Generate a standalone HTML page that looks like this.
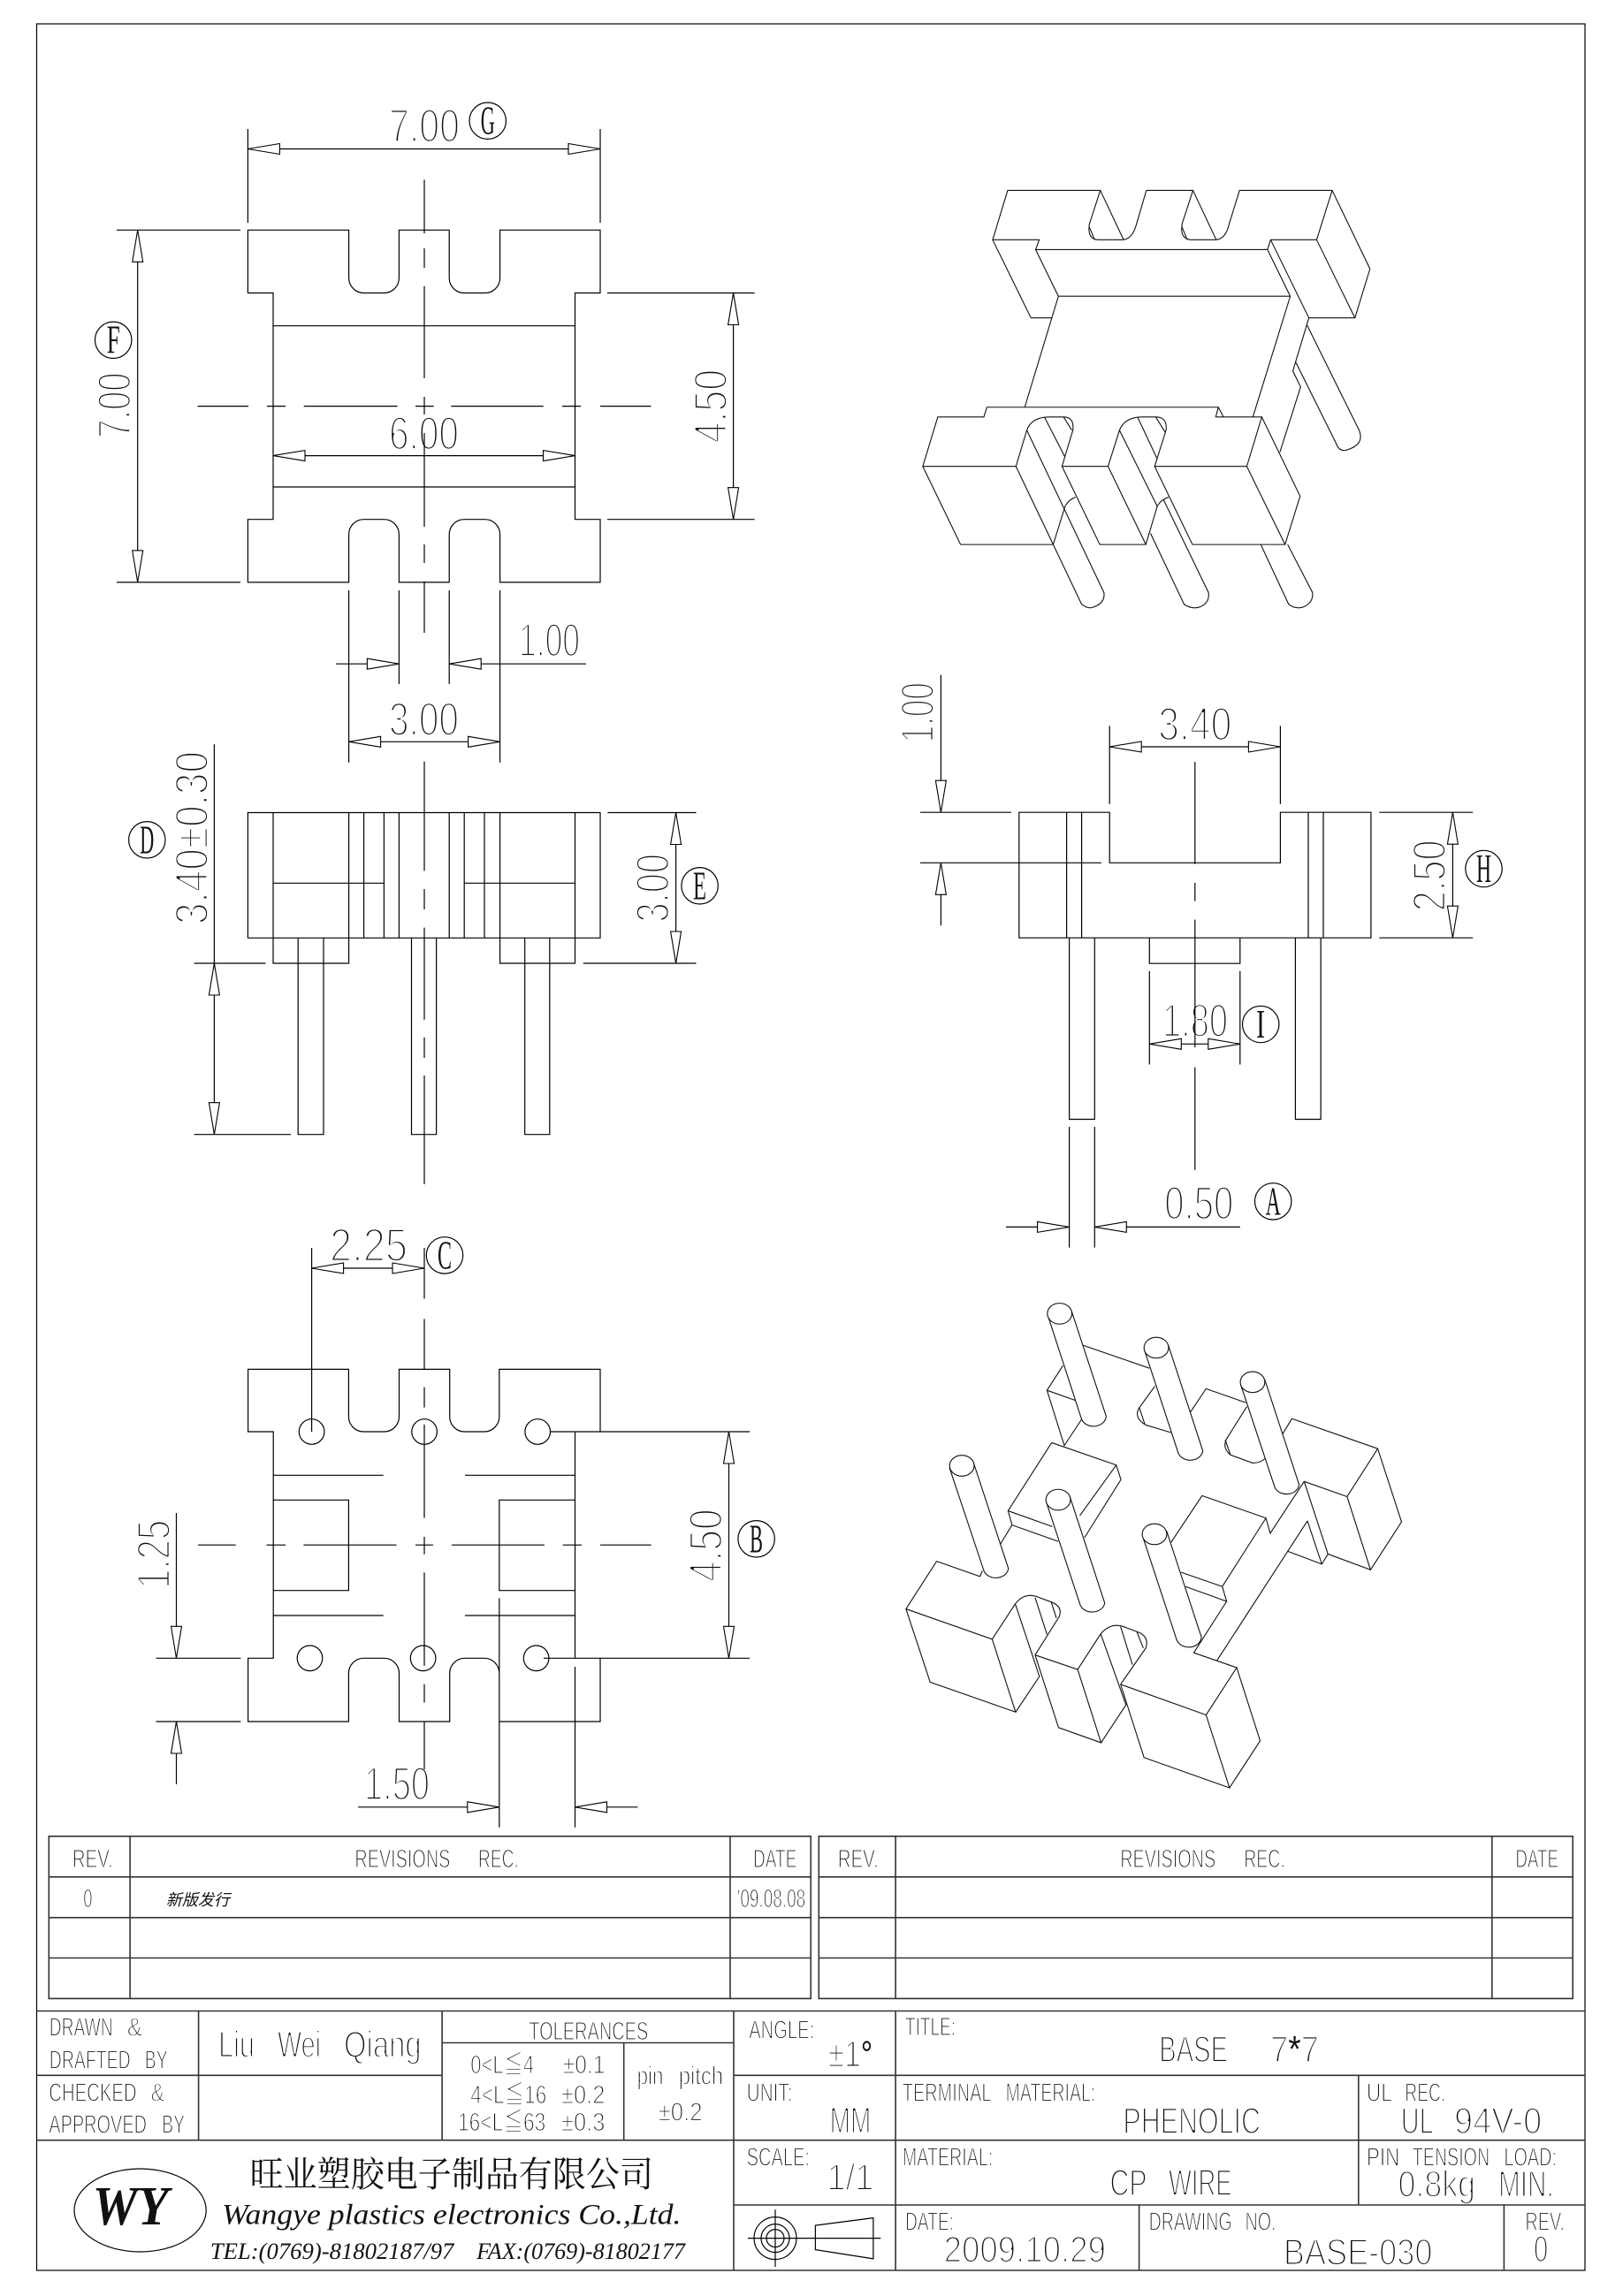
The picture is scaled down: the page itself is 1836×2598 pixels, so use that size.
<!DOCTYPE html>
<html><head><meta charset="utf-8"><title>BASE 7*7</title>
<style>
html,body{margin:0;padding:0;background:#fff}
svg{display:block}
text{font-family:"Liberation Sans","Noto Sans CJK SC",sans-serif;fill:#111;stroke:#fff;stroke-width:.045em}
.d{font-size:53px;stroke-width:.052em}.s{font-size:29px}.m{font-size:42px;stroke-width:.05em}
.c{font-family:"Liberation Serif",serif;font-size:46px;stroke:none}
.n{stroke:none}
.k{stroke:none}
.l{fill:none;stroke:#000;stroke-width:1.2}
.b{fill:none;stroke:#333;stroke-width:1.6}
.i{fill:none;stroke:#111;stroke-width:1.1;vector-effect:non-scaling-stroke}
.p{fill:#fff;stroke:#111;stroke-width:1.1;vector-effect:non-scaling-stroke}
</style></head><body>
<svg xmlns="http://www.w3.org/2000/svg" width="1836" height="2598" viewBox="0 0 1836 2598">
<defs><path id="a" d="M0 0L-36 -6V6Z" fill="#fff" stroke="#000" stroke-width="1.1"/></defs>
<rect width="1836" height="2598" fill="#fff"/>

<!-- dimension text -->
<g>
<text class="d" x="440" y="160.7" textLength="80" lengthAdjust="spacingAndGlyphs">7.00</text>
<text class="d" transform="translate(147.5,495.9) rotate(-90)" textLength="74.4" lengthAdjust="spacingAndGlyphs">7.00</text>
<text class="d" transform="translate(822,501.4) rotate(-90)" textLength="83.6" lengthAdjust="spacingAndGlyphs">4.50</text>
<text class="d" x="440" y="508.3" textLength="79" lengthAdjust="spacingAndGlyphs">6.00</text>
<text class="d" x="587" y="742.5" textLength="69" lengthAdjust="spacingAndGlyphs">1.00</text>
<text class="d" x="440" y="832" textLength="79" lengthAdjust="spacingAndGlyphs">3.00</text>
<text class="d" transform="translate(234.8,1046) rotate(-90)" textLength="196" lengthAdjust="spacingAndGlyphs">3.40±0.30</text>
<text class="d" transform="translate(756.4,1043.5) rotate(-90)" textLength="77.5" lengthAdjust="spacingAndGlyphs">3.00</text>
<text class="d" transform="translate(1056.2,840.2) rotate(-90)" textLength="68" lengthAdjust="spacingAndGlyphs">1.00</text>
<text class="d" x="1310.3" y="837.5" textLength="83" lengthAdjust="spacingAndGlyphs">3.40</text>
<text class="d" transform="translate(1635.2,1031.3) rotate(-90)" textLength="81" lengthAdjust="spacingAndGlyphs">2.50</text>
<text class="d" x="1315" y="1173.2" textLength="74" lengthAdjust="spacingAndGlyphs">1.80</text>
<text class="d" x="1317.3" y="1379.5" textLength="78" lengthAdjust="spacingAndGlyphs">0.50</text>
<text class="d" x="373" y="1426.8" textLength="88" lengthAdjust="spacingAndGlyphs">2.25</text>
<text class="d" transform="translate(816.3,1790) rotate(-90)" textLength="82.6" lengthAdjust="spacingAndGlyphs">4.50</text>
<text class="d" transform="translate(191.8,1797.8) rotate(-90)" textLength="78" lengthAdjust="spacingAndGlyphs">1.25</text>
<text class="d" x="412" y="2036.6" textLength="74" lengthAdjust="spacingAndGlyphs">1.50</text>
</g>

<!-- circled letters -->
<g class="l">
<circle cx="551.7" cy="136.7" r="20.7"/><circle cx="128.2" cy="384.8" r="20.7"/>
<circle cx="166.3" cy="950.3" r="20.7"/><circle cx="791.6" cy="1002.3" r="20.7"/>
<circle cx="1678.5" cy="983" r="20.7"/><circle cx="1426.2" cy="1159" r="20.7"/>
<circle cx="1440.2" cy="1359.4" r="20.7"/><circle cx="503" cy="1420.4" r="20.7"/>
<circle cx="855.6" cy="1741.3" r="20.7"/>
</g>
<text class="c" x="543.7" y="151.5" textLength="16" lengthAdjust="spacingAndGlyphs">G</text>
<text class="c" x="120.7" y="399.5" textLength="15" lengthAdjust="spacingAndGlyphs">F</text>
<text class="c" x="158.3" y="965.5" textLength="16" lengthAdjust="spacingAndGlyphs">D</text>
<text class="c" x="784" y="1017.5" textLength="15" lengthAdjust="spacingAndGlyphs">E</text>
<text class="c" x="1670" y="998" textLength="17" lengthAdjust="spacingAndGlyphs">H</text>
<text class="c" x="1421" y="1174" textLength="10" lengthAdjust="spacingAndGlyphs">I</text>
<text class="c" x="1431.7" y="1374.5" textLength="17" lengthAdjust="spacingAndGlyphs">A</text>
<text class="c" x="495" y="1435.5" textLength="16" lengthAdjust="spacingAndGlyphs">C</text>
<text class="c" x="848" y="1756.5" textLength="15" lengthAdjust="spacingAndGlyphs">B</text>

<!-- top view -->
<path class="l" d="M280.4 260.3H394.6V314.5A17 17 0 0 0 411.6 331.5H434.4A17 17 0 0 0 451.4 314.5V260.3H508.2V314.5A17 17 0 0 0 525.2 331.5H548.6A17 17 0 0 0 565.6 314.5V260.3H679V331.5H650.5V587.7H679V658.9H565.6V604.7A17 17 0 0 0 548.6 587.7H525.2A17 17 0 0 0 508.2 604.7V658.9H451.4V604.7A17 17 0 0 0 434.4 587.7H411.6A17 17 0 0 0 394.6 604.7V658.9H280.4V587.7H309V331.5H280.4Z
M309 368.7H650.5M309 551H650.5
M480 203.4V264M480 281V303M480 323.7V428M480 449V469M480 490V596M480 616V637M480 658V716
M223.6 459.6H281M302 459.6H323M343.7 459.6H449.6M470 459.6H490.6M510.4 459.6H614.7M636 459.6H657M679 459.6H736.5
M280.4 146V252M679 146V252M280.4 168.5H679
M132 260.3H272M132 658.9H272M155.7 260.3V658.9
M687 331.5H853.6M687 587.7H853.6M829.6 331.5V587.7
M309 515.6H650.5
M394.6 668V862.7M565.6 668V862.7M451.4 668V774M508.2 668V774
M380 751.2H451.4M508.2 751.2H663M394.6 839.3H565.6"/>
<use href="#a" transform="translate(280.4,168.5) rotate(180)"/><use href="#a" transform="translate(679,168.5)"/>
<use href="#a" transform="translate(155.7,260.3) rotate(-90)"/><use href="#a" transform="translate(155.7,658.9) rotate(90)"/>
<use href="#a" transform="translate(829.6,331.5) rotate(-90)"/><use href="#a" transform="translate(829.6,587.7) rotate(90)"/>
<use href="#a" transform="translate(309,515.6) rotate(180)"/><use href="#a" transform="translate(650.5,515.6)"/>
<use href="#a" transform="translate(451.4,751.2)"/><use href="#a" transform="translate(508.2,751.2) rotate(180)"/>
<use href="#a" transform="translate(394.6,839.3) rotate(180)"/><use href="#a" transform="translate(565.6,839.3)"/>

<!-- front view -->
<path class="l" d="M280.4 919.5H679V1061.3H280.4Z
M309 919.5V1061.3M394.6 919.5V1061.3M411.6 919.5V1061.3M434.4 919.5V1061.3M451.4 919.5V1061.3M508.2 919.5V1061.3M525.2 919.5V1061.3M548 919.5V1061.3M565.6 919.5V1061.3M650.5 919.5V1061.3
M309 999.3H434.4M525.2 999.3H650.5
M309 1061.3V1090H394.6V1061.3M565.6 1061.3V1090H650.5V1061.3
M337.2 1061.3V1283.7H366V1061.3M465.5 1061.3V1283.7H493.6V1061.3M593.7 1061.3V1283.7H621.8V1061.3
M480 861.8V985.4M480 1006V1029M480 1049.6V1153.7M480 1174V1197M480 1217V1340
M242.4 842.3V1283.7M219.6 1090H300.4M219.6 1283.7H329
M764.6 919.5V1090M687.4 919.5H787.5M659.8 1090H787.5"/>
<use href="#a" transform="translate(242.4,1090) rotate(-90)"/><use href="#a" transform="translate(242.4,1283.7) rotate(90)"/>
<use href="#a" transform="translate(764.6,919.5) rotate(-90)"/><use href="#a" transform="translate(764.6,1090) rotate(90)"/>

<!-- side view -->
<path class="l" d="M1152.8 919.2H1255.2V976.3H1448.4V919.2H1550.9V1061.2H1152.8Z
M1206.6 919.2V1061.2M1223.6 919.2V1061.2M1480 919.2V1061.2M1497 919.2V1061.2
M1209.6 1061.2V1266.5H1238.3V1061.2M1465.4 1061.2V1266.5H1494.1V1061.2
M1300.3 1061.2V1090.2H1402.8V1061.2
M1351.8 862V977.7M1351.8 999V1019.6M1351.8 1040.6V1185M1351.8 1207.6V1323.7
M1064.4 763.8V919.2M1064.4 976.3V1047.3M1041 919.2H1144M1041 976.3H1245.9
M1255.2 821.4V909.8M1448.4 821.4V909.8M1255.2 845H1448.4
M1643.4 919.2V1061.2M1560.3 919.2H1666.2M1560.3 1061.2H1666.2
M1300.3 1098.7V1204.5M1402.8 1098.7V1204.5M1300.3 1181.3H1402.8
M1209.6 1275V1411.6M1238.3 1275V1411.6M1138 1388.4H1209.6M1238.3 1388.4H1402.8"/>
<use href="#a" transform="translate(1064.4,919.2) rotate(90)"/><use href="#a" transform="translate(1064.4,976.3) rotate(-90)"/>
<use href="#a" transform="translate(1255.2,845) rotate(180)"/><use href="#a" transform="translate(1448.4,845)"/>
<use href="#a" transform="translate(1643.4,919.2) rotate(-90)"/><use href="#a" transform="translate(1643.4,1061.2) rotate(90)"/>
<use href="#a" transform="translate(1300.3,1181.3) rotate(180)"/><use href="#a" transform="translate(1402.8,1181.3)"/>
<use href="#a" transform="translate(1209.6,1388.4)"/><use href="#a" transform="translate(1238.3,1388.4) rotate(180)"/>

<!-- bottom view -->
<path class="l" d="M280.6 1549.4H394.4V1603A17 17 0 0 0 411.4 1620H434.5A17 17 0 0 0 451.5 1603V1549.4H508.7V1603A17 17 0 0 0 525.7 1620H547.8A17 17 0 0 0 564.8 1603V1549.4H679V1620H650.5V1876.3H679V1948H564.8V1893.3A17 17 0 0 0 547.8 1876.3H525.7A17 17 0 0 0 508.7 1893.3V1948H451.5V1893.3A17 17 0 0 0 434.5 1876.3H411.4A17 17 0 0 0 394.4 1893.3V1948H280.6V1876.3H309.2V1620H280.6Z
M309.2 1669.3H433.7M526 1669.3H650.5M309.2 1828H433.7M526 1828H650.5
M309.2 1697.3H394.4V1799.7H309.2M650.5 1697.3H564.8V1799.7H650.5
M224 1748.2H266.8M301.5 1748.2H323M343.4 1748.2H448.5M470 1748.2H490M511 1748.2H615.8M636.7 1748.2H658M679 1748.2H736.7
M480 1412V1469.5M480 1492.5V1549.4M480 1569.6V1592.6M480 1611.9V1717.5M480 1739V1758.8M480 1779.4V1885M480 1905.7V1926.4M480 1948V2002
M352.6 1412V1620M352.6 1435H480
M623 1620H848M615 1876.3H848M824.5 1620V1876.3
M199.5 1712V1876.3M199.5 1948V2019M176.5 1876.3H272.4M176.5 1948H272.4
M564.8 1808.4V2067.8M650.5 1886V2067.8M405 2044.8H564.8M650.5 2044.8H721.4"/>
<g class="l"><circle cx="352.6" cy="1620" r="14.3"/><circle cx="480.1" cy="1620" r="14.3"/><circle cx="608.2" cy="1620" r="14.3"/><circle cx="350.5" cy="1876.3" r="14.3"/><circle cx="478.6" cy="1876.3" r="14.3"/><circle cx="606.6" cy="1876.3" r="14.3"/></g>
<use href="#a" transform="translate(352.6,1435) rotate(180)"/><use href="#a" transform="translate(480,1435)"/>
<use href="#a" transform="translate(824.5,1620) rotate(-90)"/><use href="#a" transform="translate(824.5,1876.3) rotate(90)"/>
<use href="#a" transform="translate(199.5,1876.3) rotate(90)"/><use href="#a" transform="translate(199.5,1948) rotate(-90)"/>
<use href="#a" transform="translate(564.8,2044.8)"/><use href="#a" transform="translate(650.5,2044.8) rotate(180)"/>

<!-- iso top -->
<g transform="translate(918,150) scale(.5855,.3827)">
<path class="i" d="M350 317L379 171H558L537 270Q532 317 555 317H600Q620 317 628 270L647 171H737L716 270Q711 317 735 317H780Q800 317 807 270L827 171H1006L976 317H887L881 346H433L440 317H350Z
M558 171L603 317M737 171L782 317M537 280L547 317M716 280L726 317
M1006 171L1079 403L1050 548H961L887 317M976 317L1050 548
M350 317L424 548H465M433 346L477 484L412 812M477 484H925M881 346L925 484L853 840M961 548L930 705L945 752L905 945
M957 568L1058 880Q1070 925 1030 940Q1018 940 1014 920L935 677
M215 987L244 841H333L339 812H786L781 841H870L841 987H663L685 880Q688 841 665 841H640Q605 841 595 880L573 987H484L505 880Q508 841 487 841H460Q425 841 416 880L395 987H215Z
M786 812L796 841
M215 987L288 1218H467L395 987M484 987L557 1218H646L573 987M663 987L736 1218H915L841 987M870 841L944 1075L915 1218
M467 1218L490 1105Q497 1085 510 1078M646 1218L668 1105Q675 1085 690 1078
M450 841L490 960M487 841L503 880M630 841L668 965M665 841L683 885
M467 1218L522 1395Q535 1410 545 1403Q568 1390 565 1360L416 880
M655 1185L720 1395Q735 1410 750 1403Q770 1390 767 1360L680 1085M595 880L668 1105
M868 1218L922 1395Q935 1410 950 1403Q970 1390 968 1360L920 1218"/>
</g>

<!-- iso bottom -->
<g transform="translate(980,1440) scale(.408,.357)">
<path class="i" d="M600 230L785 303M545 295L501 373L580 405M501 373L549 548L597 465
M514 539L693 610L592 770M514 539L393 755L516 805M393 755L404 800L532 852M693 610L706 656L605 840M404 800L372 860
M800 360L757 428Q740 460 775 483L845 507M757 428L772 480
M897 445L942 368L1052 412M1055 425L1000 525Q985 555 1010 578L1070 603Q1090 605 1105 590M995 530L1010 578
M1155 510L1180 463L1418 558L1484 790L1398 942L1333 710L1418 558M1333 710L1214 662L1120 826L1108 778L931 707L845 855
M1214 662L1280 892L1263 924L1168 883M1223 787L1263 924M1223 787L972 1230M1280 892L1398 942
M1108 778L987 995L873 950M987 995L999 1042L885 995M999 1042L908 1205L1027 1252
M195 915L315 963L322 945M195 915L110 1066L177 1298L414 1393L349 1162L110 1066
M349 1162L413 1050Q440 1010 480 1030L515 1045Q545 1060 535 1090L468 1212M413 1050L480 1280L414 1393
M468 1212L533 1442L651 1490L586 1258L468 1212
M586 1258L650 1145Q680 1105 720 1125L755 1140Q785 1155 775 1190L705 1305M650 1145L720 1370L651 1490
M705 1305L770 1537L1007 1633L942 1402L705 1305M942 1402L1027 1252L1092 1484L1007 1633
M468 1030L501 1147M513 1045L527 1095M705 1122L738 1243M750 1138L768 1190"/>
<g>
<path class="p" d="M503 135L597 465A35 33 0 0 0 665 455L570 125Z"/><ellipse class="p" cx="536" cy="130" rx="34" ry="33"/>
<path class="p" d="M771 245L865 572A35 33 0 0 0 933 565L838 232Z"/><ellipse class="p" cx="804" cy="238" rx="34" ry="33"/>
<path class="p" d="M1038 355L1133 682A35 33 0 0 0 1200 672L1105 340Z"/><ellipse class="p" cx="1071" cy="347" rx="34" ry="33"/>
<path class="p" d="M231 620L326 945A35 33 0 0 0 394 938L298 605Z"/><ellipse class="p" cx="265" cy="612" rx="34" ry="33"/>
<path class="p" d="M499 727L593 1053A35 33 0 0 0 661 1047L565 712Z"/><ellipse class="p" cx="532" cy="720" rx="34" ry="33"/>
<path class="p" d="M766 835L860 1162A35 33 0 0 0 929 1155L833 820Z"/><ellipse class="p" cx="799" cy="829" rx="34" ry="33"/>
</g>
</g>

<!-- title block text -->
<text class="s" x="81.7" y="2113.2" textLength="46" lengthAdjust="spacingAndGlyphs">REV.</text>
<text class="s" x="401.4" y="2113.2" textLength="108" lengthAdjust="spacingAndGlyphs">REVISIONS</text>
<text class="s" x="540.9" y="2113.2" textLength="46" lengthAdjust="spacingAndGlyphs">REC.</text>
<text class="s" x="852" y="2113.2" textLength="49.4" lengthAdjust="spacingAndGlyphs">DATE</text>
<text class="s" x="947.7" y="2113.2" textLength="46" lengthAdjust="spacingAndGlyphs">REV.</text>
<text class="s" x="1267.2" y="2113.2" textLength="108" lengthAdjust="spacingAndGlyphs">REVISIONS</text>
<text class="s" x="1407.2" y="2113.2" textLength="46.6" lengthAdjust="spacingAndGlyphs">REC.</text>
<text class="s" x="1714.4" y="2113.2" textLength="48.6" lengthAdjust="spacingAndGlyphs">DATE</text>
<text class="s" x="94.3" y="2157.8" textLength="10.3" lengthAdjust="spacingAndGlyphs">0</text>
<text class="n" x="187.9" y="2156" font-size="18" font-style="italic" textLength="72" lengthAdjust="spacingAndGlyphs">新版发行</text>
<text class="s" x="833.7" y="2157.8" textLength="77.5" lengthAdjust="spacingAndGlyphs">'09.08.08</text>

<text class="s" x="55.8" y="2303.6" textLength="71.8" lengthAdjust="spacingAndGlyphs">DRAWN</text>
<text class="s" x="143.7" y="2303.6" textLength="17.2" lengthAdjust="spacingAndGlyphs">&amp;</text>
<text class="s" x="55.8" y="2340.4" textLength="91.9" lengthAdjust="spacingAndGlyphs">DRAFTED</text>
<text class="s" x="163.8" y="2340.4" textLength="25.8" lengthAdjust="spacingAndGlyphs">BY</text>
<text class="s" x="55.3" y="2377.4" textLength="99.3" lengthAdjust="spacingAndGlyphs">CHECKED</text>
<text class="s" x="170.6" y="2377.4" textLength="15.4" lengthAdjust="spacingAndGlyphs">&amp;</text>
<text class="s" x="55.3" y="2413.5" textLength="110.7" lengthAdjust="spacingAndGlyphs">APPROVED</text>
<text class="s" x="183.3" y="2413.5" textLength="25.7" lengthAdjust="spacingAndGlyphs">BY</text>
<text class="m" x="247" y="2327.7" textLength="41" lengthAdjust="spacingAndGlyphs">Liu</text>
<text class="m" x="314" y="2327.7" textLength="49" lengthAdjust="spacingAndGlyphs">Wei</text>
<text class="m" x="389" y="2327.7" textLength="87.6" lengthAdjust="spacingAndGlyphs">Qiang</text>
<text class="s" x="598.3" y="2307.8" textLength="135" lengthAdjust="spacingAndGlyphs">TOLERANCES</text>
<text class="s" x="532.3" y="2345.9" textLength="71.7" lengthAdjust="spacingAndGlyphs">0&lt;L≦4</text>
<text class="s" x="636.8" y="2345.9" textLength="47.6" lengthAdjust="spacingAndGlyphs">±0.1</text>
<text class="s" x="532.3" y="2379.8" textLength="86" lengthAdjust="spacingAndGlyphs">4&lt;L≦16</text>
<text class="s" x="635" y="2379.8" textLength="49.4" lengthAdjust="spacingAndGlyphs">±0.2</text>
<text class="s" x="518" y="2411" textLength="99.3" lengthAdjust="spacingAndGlyphs">16&lt;L≦63</text>
<text class="s" x="635" y="2411" textLength="49.4" lengthAdjust="spacingAndGlyphs">±0.3</text>
<text class="s" x="720.6" y="2358.6" textLength="29.9" lengthAdjust="spacingAndGlyphs">pin</text>
<text class="s" x="767.7" y="2358.6" textLength="50.5" lengthAdjust="spacingAndGlyphs">pitch</text>
<text class="s" x="744.7" y="2399.7" textLength="49.9" lengthAdjust="spacingAndGlyphs">±0.2</text>
<text class="n" x="282.6" y="2474" font-size="40" style="font-family:'Noto Serif CJK SC','Noto Sans CJK SC',serif" textLength="456.4" lengthAdjust="spacingAndGlyphs">旺业塑胶电子制品有限公司</text>
<text class="n" x="251" y="2516.4" font-size="33" font-style="italic" style="font-family:'Liberation Serif',serif" textLength="519.5" lengthAdjust="spacingAndGlyphs">Wangye plastics electronics Co.,Ltd.</text>
<text class="n" x="237.8" y="2556" font-size="26" font-style="italic" style="font-family:'Liberation Serif',serif" textLength="275.6" lengthAdjust="spacingAndGlyphs">TEL:(0769)-81802187/97</text>
<text class="n" x="539.2" y="2556" font-size="26" font-style="italic" style="font-family:'Liberation Serif',serif" textLength="235.8" lengthAdjust="spacingAndGlyphs">FAX:(0769)-81802177</text>
<text class="n" x="104.6" y="2517" font-size="62" font-weight="bold" font-style="italic" style="font-family:'Liberation Serif',serif" textLength="86" lengthAdjust="spacingAndGlyphs">WY</text>

<text class="s" x="847.2" y="2306.4" textLength="74" lengthAdjust="spacingAndGlyphs">ANGLE:</text>
<text class="m" x="936.7" y="2338.7" textLength="50.5" lengthAdjust="spacingAndGlyphs">±1<tspan class="k" fill="#111">°</tspan></text>
<text class="s" x="1024" y="2303" textLength="57" lengthAdjust="spacingAndGlyphs">TITLE:</text>
<text class="m" x="1311.3" y="2332.8" textLength="77.7" lengthAdjust="spacingAndGlyphs">BASE</text>
<text class="m" x="1437" y="2332.8" textLength="55" lengthAdjust="spacingAndGlyphs">7<tspan class="k">*</tspan>7</text>
<text class="s" x="844.6" y="2377.4" textLength="52" lengthAdjust="spacingAndGlyphs">UNIT:</text>
<text class="m" x="938.6" y="2413.5" textLength="46.7" lengthAdjust="spacingAndGlyphs">MM</text>
<text class="s" x="1020.9" y="2377.4" textLength="100.5" lengthAdjust="spacingAndGlyphs">TERMINAL</text>
<text class="s" x="1137.6" y="2377.4" textLength="101.7" lengthAdjust="spacingAndGlyphs">MATERIAL:</text>
<text class="m" x="1270.4" y="2414" textLength="155.6" lengthAdjust="spacingAndGlyphs">PHENOLIC</text>
<text class="s" x="1545.9" y="2377.4" textLength="29" lengthAdjust="spacingAndGlyphs">UL</text>
<text class="s" x="1589.3" y="2377.4" textLength="46" lengthAdjust="spacingAndGlyphs">REC.</text>
<text class="m" x="1584.7" y="2414" textLength="37" lengthAdjust="spacingAndGlyphs">UL</text>
<text class="m" x="1645" y="2414" textLength="99.2" lengthAdjust="spacingAndGlyphs">94V-0</text>
<text class="s" x="844.6" y="2450.5" textLength="71.4" lengthAdjust="spacingAndGlyphs">SCALE:</text>
<text class="m" x="935.4" y="2478" textLength="53" lengthAdjust="spacingAndGlyphs">1/1</text>
<text class="s" x="1020.9" y="2450.5" textLength="102.4" lengthAdjust="spacingAndGlyphs">MATERIAL:</text>
<text class="m" x="1255.5" y="2483.8" textLength="42.1" lengthAdjust="spacingAndGlyphs">CP</text>
<text class="m" x="1322" y="2483.8" textLength="71.6" lengthAdjust="spacingAndGlyphs">WIRE</text>
<text class="s" x="1545.9" y="2450.5" textLength="37.5" lengthAdjust="spacingAndGlyphs">PIN</text>
<text class="s" x="1597.7" y="2450.5" textLength="87.5" lengthAdjust="spacingAndGlyphs">TENSION</text>
<text class="s" x="1701.4" y="2450.5" textLength="59.6" lengthAdjust="spacingAndGlyphs">LOAD:</text>
<text class="m" x="1581.5" y="2485.5" textLength="87.5" lengthAdjust="spacingAndGlyphs">0.8kg</text>
<text class="m" x="1695" y="2485.5" textLength="62.8" lengthAdjust="spacingAndGlyphs">MIN.</text>
<text class="s" x="1024" y="2523.3" textLength="55" lengthAdjust="spacingAndGlyphs">DATE:</text>
<text class="m" x="1067.6" y="2559.3" textLength="183.4" lengthAdjust="spacingAndGlyphs">2009.10.29</text>
<text class="s" x="1299.6" y="2523.3" textLength="94" lengthAdjust="spacingAndGlyphs">DRAWING</text>
<text class="s" x="1408.5" y="2523.3" textLength="35" lengthAdjust="spacingAndGlyphs">NO.</text>
<text class="m" x="1451.9" y="2562.7" textLength="168.5" lengthAdjust="spacingAndGlyphs">BASE-030</text>
<text class="s" x="1725.4" y="2523.3" textLength="44.6" lengthAdjust="spacingAndGlyphs">REV.</text>
<text class="m" x="1735" y="2559" textLength="16.3" lengthAdjust="spacingAndGlyphs">0</text>

<!-- border + tables -->
<rect class="l" x="41.5" y="27" width="1751.5" height="2542"/>
<path class="b" d="M55.3 2077.8H917.2V2261.4H55.3ZM55.3 2123.8H917.2M55.3 2169.8H917.2M55.3 2215.5H917.2M147.1 2077.8V2261.4M826 2077.8V2261.4
M926.3 2077.8H1779.2V2261.4H926.3ZM926.3 2123.8H1779.2M926.3 2169.8H1779.2M926.3 2215.5H1779.2M1013.1 2077.8V2261.4M1687.8 2077.8V2261.4
M41.5 2275.5H1793M41.5 2348.3H500.1M829.7 2348.3H1793M41.5 2421.7H1793M829.7 2495H1793
M224.6 2275.5V2421.7M500.1 2275.5V2421.7M500.1 2311.5H830M705.7 2311.5V2421.7M830 2275.5V2569M1013.1 2275.5V2569M1536.8 2348.3V2495M1288.6 2495V2569M1701.4 2495V2569"/>
<ellipse class="l" cx="158.6" cy="2501" rx="74.6" ry="47"/>
<path class="l" d="M877 2500.3V2565M846 2532.6H996.3M922.4 2518.1L987.9 2509.6V2555.9L922.4 2545.6Z"/>
<g class="l"><circle cx="877" cy="2532.6" r="24"/><circle cx="877" cy="2532.6" r="16"/><circle cx="877" cy="2532.6" r="10"/></g>
</svg>
</body></html>
